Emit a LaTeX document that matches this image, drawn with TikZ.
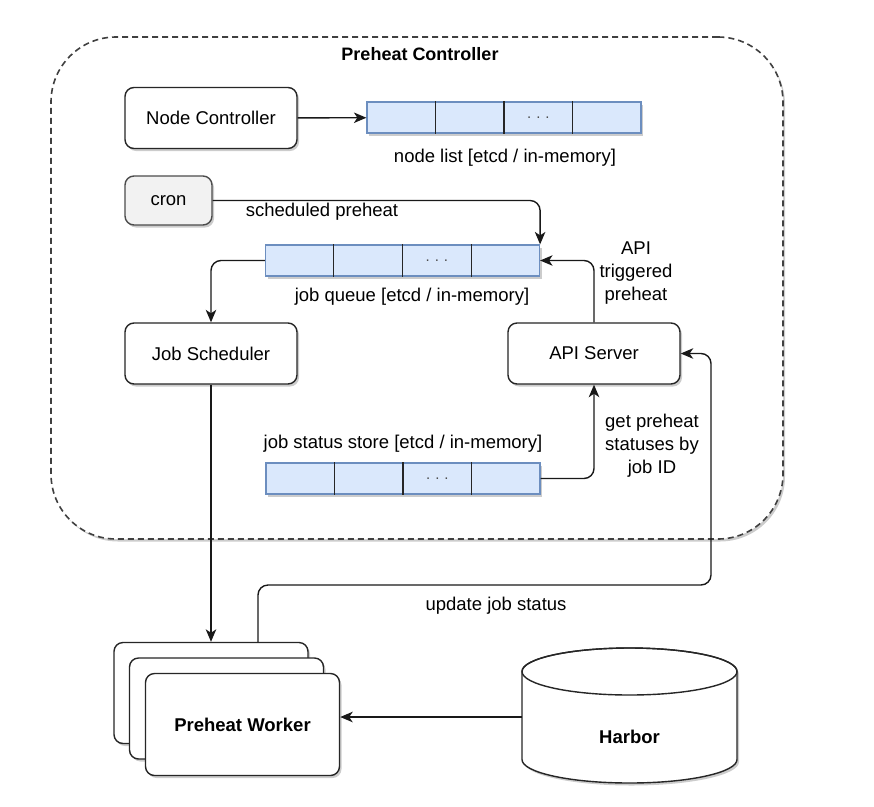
\documentclass[tikz,border=0pt]{standalone}
\usepackage{fontspec}
\setmainfont{Liberation Sans}
\usetikzlibrary{positioning, arrows.meta, shadows, calc}

\begin{document}
\begin{tikzpicture}[x=1pt, y=-1pt,
    every node/.style={font=\fontsize{18.5}{23}\selectfont},
    dshadow/.style={drop shadow={shadow xshift=2pt, shadow yshift=-2.5pt, fill=black, opacity=0.2}},
    box/.style={rectangle, rounded corners=9pt, draw=black!85, line width=1.4pt, fill=white, minimum width=172pt, minimum height=61pt, dshadow},
    queue/.style={rectangle, draw=qline, line width=1.2pt, fill=qfill, minimum width=274pt, minimum height=31pt, inner sep=0pt, dshadow},
    arr/.style={-{Stealth[length=12.5pt, width=10.5pt, inset=3.5pt]}, line width=1.4pt, black!90},
    bendarr/.style={arr, rounded corners=10pt}]

    \definecolor{qfill}{HTML}{DAE8FC}
    \definecolor{qline}{HTML}{6C8EBF}
    \definecolor{cronfill}{HTML}{F2F2F2}

    \useasboundingbox (0,0) rectangle (874,806);

    % controller area
    \node[rectangle, draw=black!75, line width=1.6pt, dash pattern=on 6pt off 4pt, rounded corners=65pt, fill=white, minimum width=732pt, minimum height=502pt, dshadow] (ctrl) at (417,288) {};
    \node[font=\fontsize{18}{23}\selectfont\bfseries] (ctrltitle) at (420,54) {Preheat Controller};

    % nodes
    \node[box] (nodectrl) at (211,118) {Node Controller};
    \node[box, fill=cronfill, draw=black!70, minimum width=87pt, minimum height=49pt] (cron) at (168.5,200.5) {cron};
    \node[box] (jobsched) at (211,353.5) {Job Scheduler};
    \node[box] (apiserver) at (594,353.5) {API Server};

    % queues
    \node[queue] (nodelist) at (504,117.5) {};
    \node[queue] (jobqueue) at (402.5,260.5) {};
    \node[queue] (store) at (403,478.5) {};
    \foreach \q in {nodelist, jobqueue, store} {
        \foreach \f in {0.25, 0.5, 0.75}
            \draw[line width=1.2pt, black!85] ($(\q.north west)!\f!(\q.north east)$) -- ($(\q.south west)!\f!(\q.south east)$);
        \node[font=\fontsize{15}{16}\selectfont, text=black!70] (\q dots) at ($(\q.west)!0.625!(\q.east)$) {.\,\,.\,\,.};
    }
    \node (nodelistlabel) at (505,158) {node list [etcd / in-memory]};
    \node (jobqueuelabel) at (412,297) {job queue [etcd / in-memory]};
    \node (storelabel) at (403,444) {job status store [etcd / in-memory]};

    % workers
    \node[box, minimum width=194pt, minimum height=101pt] (worker3) at (211,693) {};
    \node[box, minimum width=194pt, minimum height=101pt] (worker2) at (226.5,708.5) {};
    \node[box, minimum width=194pt, minimum height=102pt, font=\fontsize{18.5}{23}\selectfont\bfseries] (worker) at (242.5,724.5) {Preheat Worker};

    % harbor
    \node[minimum width=215pt, minimum height=135pt] (harbor) at (629.5,715.5) {};
    \draw[fill=white, line width=1.4pt, draw=black!85, dshadow] (522,671.5) -- (522,759.5) arc[start angle=180, end angle=0, x radius=107.5, y radius=23.5] -- (737,671.5) arc[start angle=0, end angle=-180, x radius=107.5, y radius=23.5] -- cycle;
    \draw[line width=1.4pt, draw=black!85] (629.5,671.5) ellipse[x radius=107.5, y radius=23.5];
    \node[font=\fontsize{18.5}{23}\selectfont\bfseries] (harbortext) at (629.5,737) {Harbor};

    % connectors
    \coordinate (statusbend) at (711,585);
    \draw[arr] (nodectrl) -- (nodelist);
    \draw[bendarr] (cron.east) -| (jobqueue.north east);
    \draw[bendarr] (jobqueue.west) -| (jobsched.north);
    \draw[bendarr] (apiserver.north) |- (jobqueue.east);
    \draw[bendarr] (store.east) -| (apiserver.south);
    \draw[arr] (jobsched.south) -- (worker3.north);
    \draw[bendarr] ([xshift=47pt]worker3.north) |- (statusbend) |- (apiserver.east);
    \draw[arr] ([yshift=-1.5pt]harbor.west) -- ([yshift=-1.5pt]harbor.west -| worker.east);

    % labels
    \node (schedlabel) at (322,212) {scheduled preheat};
    \node[align=center] (apilabel) at (636,273) {API\\triggered\\preheat};
    \node[align=center] (getlabel) at (652,446) {get preheat\\statuses by\\job ID};
    \node (updatelabel) at (496,606) {update job status};
\end{tikzpicture}
\end{document}
